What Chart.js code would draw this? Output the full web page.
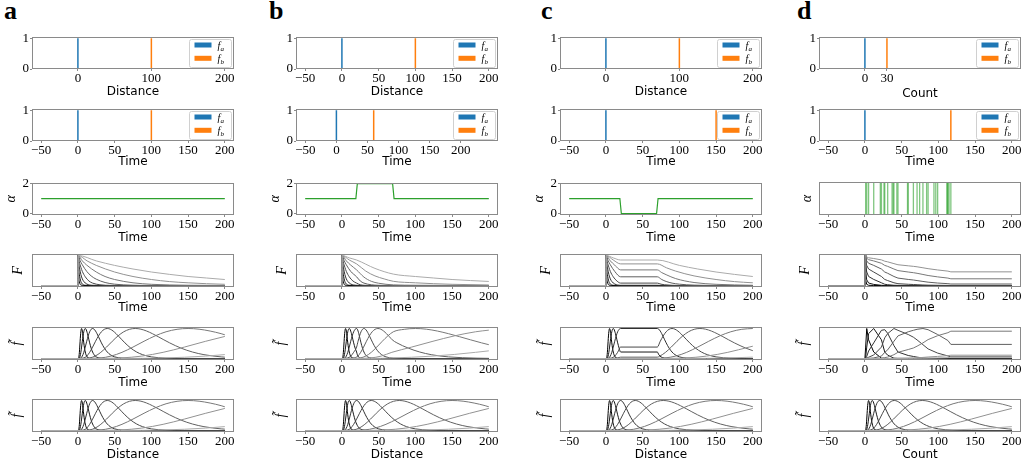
<!DOCTYPE html>
<html>
<head>
<meta charset="utf-8">
<script src="https://cdn.jsdelivr.net/npm/chart.js@4.4.1/dist/chart.umd.min.js"></script>
<style>
  body { margin: 0; background: #fff; width: 1026px; height: 465px; overflow: hidden; position: relative; }
  .letter { position: absolute; font: bold 26px "Liberation Serif", serif; line-height: 26px; color: #000; }
</style>
</head>
<body>
<div class="letter" style="left:4px;top:-2px">a</div>
<div class="letter" style="left:269px;top:-2px">b</div>
<div class="letter" style="left:541px;top:-2px">c</div>
<div class="letter" style="left:797px;top:-2px">d</div>
<script>
// ---- data ----
const distTicks = [0, 100, 200];
const timeTicks = [-50, 0, 50, 100, 150, 200];
const countTicks = [0, 30];

const faPos = 0;
const fbDistance = 100;
const fbCount = 30;
const fbTime = [100, 60, 150, 117];   // columns a..d

const alphaA = [[-50, 1], [200, 1]];
const alphaB = [[-50, 1], [19, 1], [21, 2], [69, 2], [71, 1], [200, 1]];
const alphaC = [[-50, 1], [19, 1], [21, 0], [69, 0], [71, 1], [200, 1]];
const countEvents = [1, 2.5, 5, 12, 21, 22.5, 26, 27, 31, 37, 38.5, 39.5, 43.5, 45, 58, 59,
  66, 71, 74.5, 79, 84, 86, 94, 96.5, 99, 111.5, 112.5, 113, 114.5, 117];

// F, column a (fast -> slow)
const decayA = [
  [[-50,0],[0,0],[0.4,1],[1,0.37],[2,0.135],[4,0.018],[8,0],[200,0]],
  [[-50,0],[0,0],[0.4,1],[1,0.61],[2,0.37],[4,0.135],[6,0.05],[10,0.007],[20,0],[200,0]],
  [[-50,0],[0,0],[0.4,1],[1,0.78],[2,0.61],[4,0.37],[6,0.22],[8,0.135],[12,0.05],[20,0.007],[40,0],[200,0]],
  [[-50,0],[0,0],[0.4,1],[2,0.78],[4,0.61],[6,0.47],[10,0.29],[15,0.15],[20,0.08],[30,0.024],[45,0.004],[80,0],[200,0]],
  [[-50,0],[0,0],[0.4,1],[3,0.83],[6,0.69],[12,0.47],[18,0.32],[25,0.21],[37,0.1],[50,0.044],[75,0.009],[100,0.002],[200,0]],
  [[-50,0],[0,0],[0.4,1],[6,0.82],[12,0.68],[25,0.45],[37,0.3],[50,0.2],[75,0.09],[100,0.04],[150,0.008],[200,0.002]],
  [[-50,0],[0,0],[0.4,1],[12.5,0.82],[25,0.67],[50,0.45],[75,0.3],[100,0.2],[125,0.13],[150,0.09],[175,0.06],[200,0.04]],
  [[-50,0],[0,0],[0.4,1],[25,0.82],[50,0.67],[75,0.55],[100,0.45],[125,0.37],[150,0.3],[175,0.25],[200,0.2]]
];
// F, column b (faster decay while alpha = 2)
const decayB = [
  decayA[0], decayA[1], decayA[2],
  [[-50,0],[0,0],[0.4,1],[2,0.78],[4,0.61],[6,0.47],[10,0.29],[15,0.15],[20,0.08],[25,0.024],[30,0.007],[45,0],[200,0]],
  [[-50,0],[0,0],[0.4,1],[3,0.83],[6,0.69],[12,0.47],[20,0.29],[25,0.15],[30,0.08],[40,0.024],[50,0.007],[70,0.001],[200,0]],
  [[-50,0],[0,0],[0.4,1],[6,0.82],[12,0.68],[20,0.52],[30,0.28],[40,0.14],[50,0.076],[70,0.021],[100,0.008],[150,0.002],[200,0]],
  [[-50,0],[0,0],[0.4,1],[10,0.85],[20,0.72],[32.5,0.48],[45,0.32],[57.5,0.22],[70,0.14],[100,0.09],[125,0.06],[150,0.04],[200,0.018]],
  [[-50,0],[0,0],[0.4,1],[10,0.92],[20,0.85],[45,0.57],[70,0.38],[100,0.3],[125,0.25],[150,0.2],[175,0.165],[200,0.135]]
];
// F, column c (frozen while alpha = 0)
const decayC = [
  decayA[0], decayA[1],
  [[-50,0],[0,0],[0.4,1],[1,0.78],[2,0.61],[4,0.37],[6,0.22],[8,0.135],[12,0.05],[20,0.007],[70,0.007],[80,0],[200,0]],
  [[-50,0],[0,0],[0.4,1],[2,0.78],[4,0.61],[6,0.47],[10,0.29],[15,0.15],[20,0.08],[70,0.08],[75,0.044],[80,0.024],[90,0.007],[110,0],[200,0]],
  [[-50,0],[0,0],[0.4,1],[3,0.83],[6,0.69],[12,0.47],[20,0.29],[70,0.29],[76,0.2],[82,0.135],[90,0.08],[100,0.044],[120,0.013],[150,0.002],[200,0]],
  [[-50,0],[0,0],[0.4,1],[6,0.82],[12,0.68],[20,0.52],[70,0.52],[76,0.43],[82,0.36],[95,0.23],[120,0.1],[150,0.04],[200,0.008]],
  [[-50,0],[0,0],[0.4,1],[10,0.85],[20,0.72],[70,0.72],[82.5,0.59],[95,0.48],[120,0.32],[150,0.2],[175,0.13],[200,0.09]],
  [[-50,0],[0,0],[0.4,1],[10,0.92],[20,0.85],[70,0.85],[100,0.67],[125,0.55],[150,0.45],[175,0.37],[200,0.3]]
];
// F, column d: sampled at event times
const decayTimesD = [0.3, 1, 2.5, 5, 12, 22.5, 27, 31, 39.5, 45, 59, 66, 71, 79, 86, 99, 113, 117, 200];
const decayD = [
  [1,0.189,0.036,0.007,0.001,0,0,0,0,0,0,0,0,0,0,0,0,0,0],
  [1,0.435,0.189,0.082,0.036,0.007,0.001,0,0,0,0,0,0,0,0,0,0,0,0],
  [1,0.67,0.449,0.301,0.202,0.091,0.041,0.027,0.008,0.004,0.002,0.001,0.001,0,0,0,0,0,0],
  [1,0.819,0.67,0.549,0.449,0.301,0.202,0.165,0.091,0.061,0.041,0.033,0.027,0.018,0.012,0.007,0.004,0.002,0.002],
  [1,0.905,0.819,0.741,0.67,0.549,0.449,0.407,0.301,0.247,0.202,0.183,0.165,0.135,0.111,0.082,0.061,0.05,0.05],
  [1,0.951,0.905,0.861,0.819,0.741,0.67,0.638,0.549,0.497,0.449,0.427,0.407,0.368,0.333,0.287,0.247,0.223,0.223],
  [1,0.974,0.949,0.924,0.9,0.854,0.81,0.789,0.729,0.692,0.656,0.639,0.623,0.591,0.561,0.518,0.479,0.455,0.455]
];

// f-tilde against distance (also column a over time)
const bumpsBase = [
  [[-50,0],[0,0],[1,0.018],[1.5,0.08],[2,0.206],[2.5,0.381],[3,0.575],[3.5,0.753],[4,0.891],[4.5,0.973],[5,1],[5.5,0.977],[6,0.915],[6.5,0.828],[7,0.728],[7.5,0.623],[8,0.522],[9,0.346],[10,0.216],[11,0.128],[12.5,0.054],[15,0.011],[17.5,0.002],[25,0],[200,0]],
  [[-50,0],[0,0],[2,0.018],[3,0.08],[4,0.206],[5,0.381],[6,0.575],[7,0.753],[8,0.891],[9,0.973],[10,1],[11,0.977],[12,0.915],[13,0.828],[14,0.728],[15,0.623],[16,0.522],[18,0.346],[20,0.216],[22,0.128],[25,0.054],[30,0.011],[35,0.002],[50,0],[200,0]],
  [[-50,0],[0,0],[4,0.018],[6,0.08],[8,0.206],[10,0.381],[12,0.575],[14,0.753],[16,0.891],[18,0.973],[20,1],[22,0.977],[24,0.915],[26,0.828],[28,0.728],[30,0.623],[32,0.522],[36,0.346],[40,0.216],[44,0.128],[50,0.054],[60,0.011],[70,0.002],[100,0],[200,0]],
  [[-50,0],[0,0],[8,0.018],[12,0.08],[16,0.206],[20,0.381],[24,0.575],[28,0.753],[32,0.891],[36,0.973],[40,1],[44,0.977],[48,0.915],[52,0.828],[56,0.728],[60,0.623],[64,0.522],[72,0.346],[80,0.216],[88,0.128],[100,0.054],[120,0.011],[140,0.002],[200,0]],
  [[-50,0],[0,0],[15.6,0.018],[23.4,0.08],[31.2,0.206],[39,0.381],[46.8,0.575],[54.6,0.753],[62.4,0.891],[70.2,0.973],[78,1],[85.8,0.977],[93.6,0.915],[101.4,0.828],[109.2,0.728],[117,0.623],[124.8,0.522],[140.4,0.346],[156,0.216],[171.6,0.128],[195,0.054],[200,0.045]],
  [[-50,0],[0,0],[30,0.018],[45,0.08],[60,0.206],[75,0.381],[90,0.575],[105,0.753],[120,0.891],[135,0.973],[150,1],[165,0.977],[180,0.915],[195,0.828],[200,0.79]],
  [[-50,0],[0,0],[29,0.001],[58,0.018],[87,0.08],[116,0.206],[145,0.381],[174,0.575],[200,0.735]],
  [[-50,0],[0,0],[58,0.001],[87,0.005],[116,0.018],[145,0.042],[174,0.08],[200,0.13]]
];
// f-tilde over time, column b
const bumpsB = [
  bumpsBase[0],
  [[-50,0],[0,0],[2,0.018],[3,0.08],[4,0.206],[5,0.381],[6,0.575],[7,0.753],[8,0.891],[9,0.973],[10,1],[11,0.977],[12,0.915],[13,0.828],[14,0.728],[15,0.623],[16,0.522],[18,0.346],[20,0.216],[21,0.128],[22.5,0.054],[25,0.011],[27.5,0.002],[40,0],[200,0]],
  [[-50,0],[0,0],[4,0.018],[6,0.08],[8,0.206],[10,0.381],[12,0.575],[14,0.753],[16,0.891],[18,0.973],[20,1],[21,0.977],[22,0.915],[23,0.828],[24,0.728],[25,0.623],[26,0.522],[28,0.346],[30,0.216],[32,0.128],[35,0.054],[40,0.011],[45,0.002],[60,0],[200,0]],
  [[-50,0],[0,0],[8,0.018],[12,0.08],[16,0.206],[20,0.381],[22,0.575],[24,0.753],[26,0.891],[28,0.973],[30,1],[32,0.977],[34,0.915],[36,0.828],[38,0.728],[40,0.623],[42,0.522],[46,0.346],[50,0.216],[54,0.128],[60,0.054],[70,0.011],[90,0.002],[120,0],[200,0]],
  [[-50,0],[0,0],[15.6,0.018],[21.7,0.08],[25.6,0.206],[29.5,0.381],[33.4,0.575],[37.3,0.753],[41.2,0.891],[45.1,0.973],[49,1],[52.9,0.977],[56.8,0.915],[60.7,0.828],[64.6,0.728],[68.5,0.623],[74.8,0.522],[90.4,0.346],[106,0.216],[121.6,0.128],[145,0.054],[184,0.011],[200,0.005]],
  [[-50,0],[0,0],[20,0.005],[25,0.018],[32.5,0.08],[40,0.206],[47.5,0.381],[55,0.575],[62.5,0.753],[70,0.891],[85,0.973],[100,1],[115,0.977],[130,0.915],[145,0.828],[160,0.728],[175,0.623],[190,0.522],[200,0.46]],
  [[-50,0],[0,0],[20,0.0002],[39,0.018],[53.5,0.08],[68,0.206],[95,0.381],[124,0.575],[153,0.753],[182,0.891],[200,0.945]],
  [[-50,0],[0,0],[39,0.001],[53.5,0.005],[68,0.018],[95,0.042],[124,0.08],[153,0.135],[182,0.206],[200,0.255]]
];
// f-tilde over time, column c
const bumpsC = [
  bumpsBase[0],
  [[-50,0],[0,0],[2,0.018],[3,0.08],[4,0.206],[5,0.381],[6,0.575],[7,0.753],[8,0.891],[9,0.973],[10,1],[11,0.977],[12,0.915],[13,0.828],[14,0.728],[15,0.623],[16,0.522],[18,0.346],[20,0.216],[70,0.216],[72,0.128],[75,0.054],[80,0.011],[85,0.002],[100,0],[200,0]],
  [[-50,0],[0,0],[4,0.018],[6,0.08],[8,0.206],[10,0.381],[12,0.575],[14,0.753],[16,0.891],[18,0.973],[20,1],[70,1],[72,0.977],[74,0.915],[76,0.828],[78,0.728],[80,0.623],[82,0.522],[86,0.346],[90,0.216],[94,0.128],[100,0.054],[110,0.011],[120,0.002],[150,0],[200,0]],
  [[-50,0],[0,0],[8,0.018],[12,0.08],[16,0.206],[20,0.381],[70,0.381],[74,0.575],[78,0.753],[82,0.891],[86,0.973],[90,1],[94,0.977],[98,0.915],[102,0.828],[106,0.728],[110,0.623],[114,0.522],[122,0.346],[130,0.216],[138,0.128],[150,0.054],[170,0.011],[190,0.002],[200,0]],
  [[-50,0],[0,0],[15.6,0.018],[20,0.045],[70,0.045],[73.4,0.08],[81.2,0.206],[89,0.381],[96.8,0.575],[104.6,0.753],[112.4,0.891],[120.2,0.973],[128,1],[135.8,0.977],[143.6,0.915],[151.4,0.828],[159.2,0.728],[167,0.623],[174.8,0.522],[190.4,0.346],[200,0.26]],
  [[-50,0],[0,0],[20,0.004],[70,0.004],[80,0.018],[95,0.08],[110,0.206],[125,0.381],[140,0.575],[155,0.753],[170,0.891],[185,0.973],[200,1]],
  [[-50,0],[0,0],[79,0.001],[108,0.018],[137,0.08],[166,0.206],[195,0.381],[200,0.41]],
  [[-50,0],[0,0],[108,0.001],[137,0.005],[166,0.018],[200,0.045]]
];
// f-tilde over time, column d, sampled at event times
const bumpTimesD = [0, 1, 2.5, 5, 12, 22.5, 27, 31, 39.5, 45, 59, 66, 71, 79, 86, 99, 113, 117, 200];
const bumpsD = [
  [0,0.381,1,0.623,0.216,0.011,0,0,0,0,0,0,0,0,0,0,0,0,0],
  [0,0.042,0.381,0.83,1,0.623,0.216,0.11,0.011,0.002,0,0,0,0,0,0,0,0,0],
  [0,0.004,0.07,0.25,0.52,0.94,0.96,0.84,0.43,0.216,0.1,0.068,0.045,0.017,0.007,0.002,0,0,0],
  [0,0,0.009,0.042,0.116,0.381,0.69,0.83,1,0.94,0.8,0.71,0.62,0.46,0.32,0.18,0.085,0.055,0.055],
  [0,0,0.001,0.005,0.018,0.08,0.206,0.288,0.575,0.753,0.891,0.94,0.973,1,0.96,0.8,0.6,0.47,0.47],
  [0,0,0,0.001,0.002,0.009,0.03,0.046,0.127,0.206,0.3,0.35,0.41,0.52,0.63,0.76,0.86,0.91,0.91],
  [0,0,0,0,0,0,0.001,0.002,0.006,0.01,0.016,0.02,0.025,0.036,0.05,0.07,0.095,0.11,0.11],
  [0,0,0,0,0,0,0,0,0.001,0.002,0.004,0.005,0.006,0.008,0.011,0.02,0.03,0.04,0.04]
];

// ---- layout (pixel positions of plot frames in the figure) ----
const colLeft = [32, 296, 560, 819];
const rowTop = [36, 108, 182, 254, 327, 399];
const plotW = 202, plotH = 33;
const L = 32, R = 16, T = 8, B = 40;
const xTitleGap = [23, 21, 23, 21, 23, 23];

const BLUE = '#1f77b4', ORANGE = '#ff7f0e', GREEN = '#2ca02c';
const grays = ['#000000', '#181818', '#303030', '#484848', '#606060', '#787878', '#929292', '#ababab'];
const SERIF = "'Liberation Serif', 'Times New Roman', serif";

const fmt = v => (v < 0 ? '\u2212' + (-v) : String(v));
const xy = pairs => pairs.map(p => ({ x: p[0], y: p[1] }));
const zipXY = (xs, ys) => xs.map((x, i) => ({ x: x, y: ys[i] }));

const frame = {
  id: 'frame',
  afterDraw(ch) {
    const a = ch.chartArea, c = ch.ctx;
    c.save();
    c.strokeStyle = '#8a8a8a';
    c.lineWidth = 1;
    c.strokeRect(Math.round(a.left) + 0.5, Math.round(a.top) + 0.5,
      Math.round(a.right - a.left) - 1, Math.round(a.bottom - a.top) - 1);
    c.restore();
  }
};

const legendBox = {
  id: 'legendBox',
  afterDraw(ch) {
    const a = ch.chartArea, c = ch.ctx;
    const x0 = Math.round(a.right) - 44.5, y0 = Math.round(a.top) + 2.5;
    c.save();
    c.fillStyle = 'rgba(255,255,255,0.8)';
    c.strokeStyle = '#d0d0d0';
    c.lineWidth = 1;
    c.beginPath();
    c.roundRect(x0, y0, 42, 28, 2);
    c.fill();
    c.stroke();
    [[BLUE, 'a'], [ORANGE, 'b']].forEach((e, i) => {
      const y = y0 + 3 + i * 13.3;
      c.fillStyle = e[0];
      c.fillRect(x0 + 5, y, 17, 5);
      c.fillStyle = '#000';
      c.font = 'italic 10px ' + SERIF;
      c.textBaseline = 'alphabetic';
      c.fillText('f', x0 + 28, y + 6.5);
      c.font = 'italic 7px ' + SERIF;
      c.fillText(e[1], x0 + 31, y + 8);
    });
    c.restore();
  }
};

function spikes(xa, xb) {
  return [
    { data: xy([[xa, 0], [xa, 1]]), borderColor: BLUE, borderWidth: 1.5 },
    { data: xy([[xb, 0], [xb, 1]]), borderColor: ORANGE, borderWidth: 1.5 }
  ];
}
function family(list) {
  return list.map((c, i) => ({
    data: xy(c), borderColor: grays[i], borderWidth: 1, cubicInterpolationMode: 'monotone'
  })).reverse();
}
function familyD(times, list) {
  return list.map((ys, i) => ({
    data: [{ x: -50, y: 0 }].concat(zipXY(times, ys)),
    borderColor: grays[i], borderWidth: 1
  })).reverse();
}

function panel(col, row, o) {
  const w = plotW + L + R, h = plotH + T + B;
  const cv = document.createElement('canvas');
  cv.width = w; cv.height = h;
  cv.style.cssText = 'position:absolute;left:' + (colLeft[col] - L) + 'px;top:' + (rowTop[row] - T) +
    'px;width:' + w + 'px;height:' + h + 'px';
  document.body.appendChild(cv);
  const tickGrid = { display: true, drawOnChartArea: false, drawTicks: true, tickLength: 2, color: '#8a8a8a' };
  const tickFont = { family: SERIF, size: 13 };
  const gap = o.xgap ?? xTitleGap[row];
  new Chart(cv, {
    type: 'line',
    data: { datasets: o.datasets },
    options: {
      responsive: false, animation: false, devicePixelRatio: 1,
      layout: { padding: { top: T, right: R, left: 0, bottom: 0 } },
      plugins: { legend: { display: false }, tooltip: { enabled: false } },
      elements: { point: { radius: 0 }, line: { borderWidth: 1 } },
      scales: {
        x: {
          type: 'linear', min: o.xmin ?? -62.5, max: o.xmax ?? 212.5,
          afterBuildTicks: s => { s.ticks = o.xticks.map(v => ({ value: v })); },
          afterFit: s => { s.height = B; },
          grid: tickGrid, border: { display: false },
          ticks: { font: tickFont, color: '#000', padding: 0, maxRotation: 0, autoSkip: false, callback: fmt },
          title: {
            display: true, text: o.xlabel, color: '#000',
            font: { family: "'DejaVu Sans', sans-serif", size: 12 },
            padding: { top: 0, bottom: B - gap - 7.2 }
          }
        },
        y: {
          type: 'linear', min: o.ymin, max: o.ymax,
          afterBuildTicks: s => { s.ticks = (o.yticks || []).map(v => ({ value: v })); },
          afterFit: s => { s.width = L; },
          grid: o.yticks ? tickGrid : { display: false }, border: { display: false },
          ticks: { display: !!o.yticks, font: tickFont, color: '#000', padding: 1, callback: fmt },
          title: {
            display: !!o.ytitle, text: o.ytitle, color: '#000',
            font: { family: SERIF, size: 14, style: 'italic' },
            padding: { top: o.ytitlePad ?? 5, bottom: 0 }
          }
        }
      }
    },
    plugins: o.legend ? [frame, legendBox] : [frame]
  });
}

// row 1: f_a and f_b against distance / count
panel(0, 0, { datasets: spikes(faPos, fbDistance), xticks: distTicks, xlabel: 'Distance', ymin: 0, ymax: 1.05, yticks: [0, 1], legend: true });
panel(1, 0, { datasets: spikes(faPos, fbDistance), xticks: timeTicks, xlabel: 'Distance', ymin: 0, ymax: 1.05, yticks: [0, 1], legend: true });
panel(2, 0, { datasets: spikes(faPos, fbDistance), xticks: distTicks, xlabel: 'Distance', ymin: 0, ymax: 1.05, yticks: [0, 1], legend: true });
panel(3, 0, { datasets: spikes(faPos, fbCount), xticks: countTicks, xlabel: 'Count', ymin: 0, ymax: 1.05, yticks: [0, 1], legend: true, xgap: 25 });

// row 2: f_a and f_b over time
for (let c = 0; c < 4; c++) {
  panel(c, 1, {
    datasets: spikes(faPos, fbTime[c]), xticks: timeTicks, xlabel: 'Time', ymin: 0, ymax: 1.05, yticks: [0, 1], legend: true,
    xmin: c === 1 ? -65 : undefined, xmax: c === 1 ? 260 : undefined
  });
}

// row 3: alpha
[alphaA, alphaB, alphaC].forEach((al, c) => {
  panel(c, 2, {
    datasets: [{ data: xy(al), borderColor: GREEN, borderWidth: 1.2 }],
    xticks: timeTicks, xlabel: 'Time', ymin: -0.1, ymax: 2.05, yticks: [0, 1, 2], ytitle: '\u03b1', ytitlePad: 3
  });
});
panel(3, 2, {
  datasets: countEvents.map(e => ({ data: xy([[e, 0], [e, 1]]), borderColor: 'rgba(44,160,44,0.6)', borderWidth: 1.3 })),
  xticks: timeTicks, xlabel: 'Time', ymin: 0, ymax: 1, ytitle: '\u03b1', ytitlePad: 12
});

// row 4: F
[decayA, decayB, decayC].forEach((d, c) => {
  panel(c, 3, { datasets: family(d), xticks: timeTicks, xlabel: 'Time', ymin: -0.05, ymax: 1.05, ytitle: 'F', ytitlePad: 10 });
});
panel(3, 3, {
  datasets: familyD([0].concat(decayTimesD), decayD.map(v => [0].concat(v))),
  xticks: timeTicks, xlabel: 'Time', ymin: -0.05, ymax: 1.05, ytitle: 'F', ytitlePad: 10
});

// row 5: f-tilde over time
[bumpsBase, bumpsB, bumpsC].forEach((d, c) => {
  panel(c, 4, { datasets: family(d), xticks: timeTicks, xlabel: 'Time', ymin: -0.05, ymax: 1.05, ytitle: 'f\u0303', ytitlePad: 9 });
});
panel(3, 4, {
  datasets: familyD(bumpTimesD, bumpsD),
  xticks: timeTicks, xlabel: 'Time', ymin: -0.05, ymax: 1.05, ytitle: 'f\u0303', ytitlePad: 9
});

// row 6: f-tilde against distance / count
['Distance', 'Distance', 'Distance', 'Count'].forEach((lab, c) => {
  panel(c, 5, { datasets: family(bumpsBase), xticks: timeTicks, xlabel: lab, ymin: -0.05, ymax: 1.05, ytitle: 'f\u0303', ytitlePad: 9 });
});
</script>
</body>
</html>
